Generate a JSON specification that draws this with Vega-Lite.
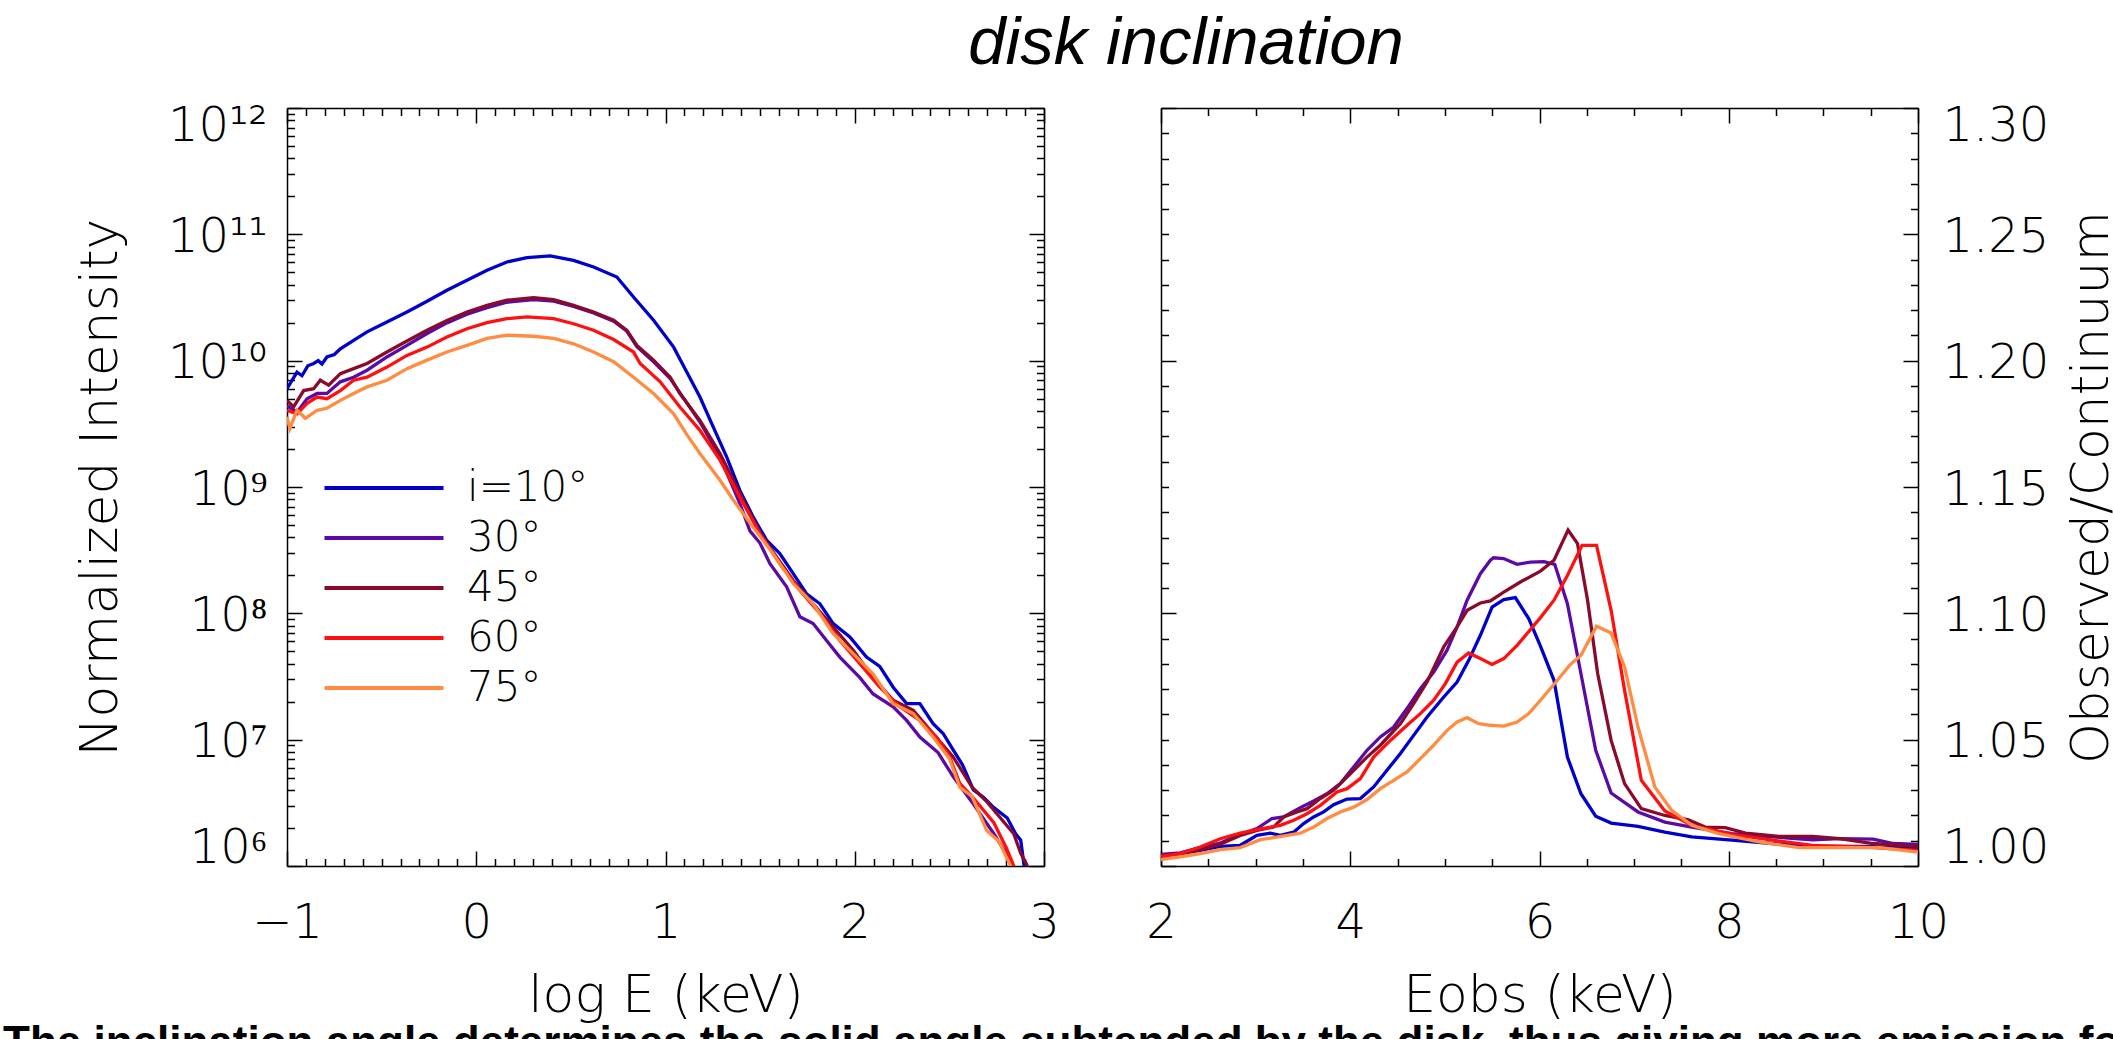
{
  "$schema": "https://vega.github.io/schema/vega-lite/v6.json",
  "autosize": {"type": "none"},
  "padding": {"left": 287, "top": 108, "right": 1826, "bottom": 931},
  "background": "white",
  "datasets": {
    "spec": [
      {"inc": "i=10°", "logE": -1, "I": 6.0e9}, {"inc": "i=10°", "logE": -0.947, "I": 8.1e9}, {"inc": "i=10°", "logE": -0.921, "I": 7.6e9}, {"inc": "i=10°", "logE": -0.89, "I": 9.1e9}, {"inc": "i=10°", "logE": -0.859, "I": 9.5e9}, {"inc": "i=10°", "logE": -0.835, "I": 1.0e10}, {"inc": "i=10°", "logE": -0.815, "I": 9.4e9}, {"inc": "i=10°", "logE": -0.789, "I": 1.07e10}, {"inc": "i=10°", "logE": -0.75, "I": 1.12e10}, {"inc": "i=10°", "logE": -0.718, "I": 1.24e10}, {"inc": "i=10°", "logE": -0.648, "I": 1.45e10}, {"inc": "i=10°", "logE": -0.577, "I": 1.69e10}, {"inc": "i=10°", "logE": -0.472, "I": 2.02e10}, {"inc": "i=10°", "logE": -0.366, "I": 2.43e10}, {"inc": "i=10°", "logE": -0.26, "I": 2.95e10}, {"inc": "i=10°", "logE": -0.155, "I": 3.61e10}, {"inc": "i=10°", "logE": -0.049, "I": 4.33e10}, {"inc": "i=10°", "logE": 0.057, "I": 5.19e10}, {"inc": "i=10°", "logE": 0.162, "I": 6.04e10}, {"inc": "i=10°", "logE": 0.268, "I": 6.55e10}, {"inc": "i=10°", "logE": 0.391, "I": 6.75e10}, {"inc": "i=10°", "logE": 0.514, "I": 6.22e10}, {"inc": "i=10°", "logE": 0.62, "I": 5.51e10}, {"inc": "i=10°", "logE": 0.743, "I": 4.59e10}, {"inc": "i=10°", "logE": 0.831, "I": 3.19e10}, {"inc": "i=10°", "logE": 0.937, "I": 2.09e10}, {"inc": "i=10°", "logE": 1.043, "I": 1.28e10}, {"inc": "i=10°", "logE": 1.113, "I": 8.1e9}, {"inc": "i=10°", "logE": 1.182, "I": 5.15e9}, {"inc": "i=10°", "logE": 1.252, "I": 2.99e9}, {"inc": "i=10°", "logE": 1.323, "I": 1.73e9}, {"inc": "i=10°", "logE": 1.393, "I": 9.4e8}, {"inc": "i=10°", "logE": 1.463, "I": 5.8e8}, {"inc": "i=10°", "logE": 1.534, "I": 3.8e8}, {"inc": "i=10°", "logE": 1.604, "I": 2.97e8}, {"inc": "i=10°", "logE": 1.675, "I": 2.06e8}, {"inc": "i=10°", "logE": 1.745, "I": 1.43e8}, {"inc": "i=10°", "logE": 1.816, "I": 1.19e8}, {"inc": "i=10°", "logE": 1.886, "I": 8.3e7}, {"inc": "i=10°", "logE": 1.974, "I": 6.5e7}, {"inc": "i=10°", "logE": 2.062, "I": 4.5e7}, {"inc": "i=10°", "logE": 2.132, "I": 3.8e7}, {"inc": "i=10°", "logE": 2.203, "I": 2.6e7}, {"inc": "i=10°", "logE": 2.274, "I": 1.93e7}, {"inc": "i=10°", "logE": 2.344, "I": 1.93e7}, {"inc": "i=10°", "logE": 2.414, "I": 1.34e7}, {"inc": "i=10°", "logE": 2.467, "I": 1.12e7}, {"inc": "i=10°", "logE": 2.52, "I": 8.3e6}, {"inc": "i=10°", "logE": 2.57, "I": 6.3e6}, {"inc": "i=10°", "logE": 2.627, "I": 4.0e6}, {"inc": "i=10°", "logE": 2.68, "I": 3.5e6}, {"inc": "i=10°", "logE": 2.735, "I": 2.9e6}, {"inc": "i=10°", "logE": 2.806, "I": 2.4e6}, {"inc": "i=10°", "logE": 2.85, "I": 1.8e6}, {"inc": "i=10°", "logE": 2.877, "I": 1.6e6}, {"inc": "i=10°", "logE": 2.895, "I": 1.0e6},
      {"inc": "30°", "logE": -1, "I": 4.4e9}, {"inc": "30°", "logE": -0.947, "I": 3.9e9}, {"inc": "30°", "logE": -0.894, "I": 5.0e9}, {"inc": "30°", "logE": -0.841, "I": 5.5e9}, {"inc": "30°", "logE": -0.789, "I": 5.5e9}, {"inc": "30°", "logE": -0.718, "I": 6.8e9}, {"inc": "30°", "logE": -0.648, "I": 7.4e9}, {"inc": "30°", "logE": -0.577, "I": 8.4e9}, {"inc": "30°", "logE": -0.472, "I": 1.07e10}, {"inc": "30°", "logE": -0.366, "I": 1.32e10}, {"inc": "30°", "logE": -0.26, "I": 1.64e10}, {"inc": "30°", "logE": -0.155, "I": 1.99e10}, {"inc": "30°", "logE": -0.049, "I": 2.33e10}, {"inc": "30°", "logE": 0.057, "I": 2.63e10}, {"inc": "30°", "logE": 0.162, "I": 2.9e10}, {"inc": "30°", "logE": 0.303, "I": 3.04e10}, {"inc": "30°", "logE": 0.409, "I": 2.96e10}, {"inc": "30°", "logE": 0.514, "I": 2.69e10}, {"inc": "30°", "logE": 0.62, "I": 2.39e10}, {"inc": "30°", "logE": 0.726, "I": 2.05e10}, {"inc": "30°", "logE": 0.796, "I": 1.71e10}, {"inc": "30°", "logE": 0.849, "I": 1.29e10}, {"inc": "30°", "logE": 0.937, "I": 9.8e9}, {"inc": "30°", "logE": 1.025, "I": 7.2e9}, {"inc": "30°", "logE": 1.182, "I": 3.27e9}, {"inc": "30°", "logE": 1.288, "I": 1.73e9}, {"inc": "30°", "logE": 1.393, "I": 7.4e8}, {"inc": "30°", "logE": 1.446, "I": 4.5e8}, {"inc": "30°", "logE": 1.499, "I": 3.6e8}, {"inc": "30°", "logE": 1.552, "I": 2.47e8}, {"inc": "30°", "logE": 1.64, "I": 1.62e8}, {"inc": "30°", "logE": 1.71, "I": 9.4e7}, {"inc": "30°", "logE": 1.78, "I": 8.3e7}, {"inc": "30°", "logE": 1.851, "I": 6.1e7}, {"inc": "30°", "logE": 1.921, "I": 4.5e7}, {"inc": "30°", "logE": 2.027, "I": 3.1e7}, {"inc": "30°", "logE": 2.097, "I": 2.3e7}, {"inc": "30°", "logE": 2.203, "I": 1.82e7}, {"inc": "30°", "logE": 2.274, "I": 1.42e7}, {"inc": "30°", "logE": 2.344, "I": 1.05e7}, {"inc": "30°", "logE": 2.44, "I": 7.9e6}, {"inc": "30°", "logE": 2.52, "I": 5.1e6}, {"inc": "30°", "logE": 2.62, "I": 3.2e6}, {"inc": "30°", "logE": 2.735, "I": 1.8e6}, {"inc": "30°", "logE": 2.84, "I": 1.0e6},
      {"inc": "45°", "logE": -1, "I": 4.85e9}, {"inc": "45°", "logE": -0.965, "I": 4.3e9}, {"inc": "45°", "logE": -0.912, "I": 5.8e9}, {"inc": "45°", "logE": -0.859, "I": 6.0e9}, {"inc": "45°", "logE": -0.824, "I": 7.0e9}, {"inc": "45°", "logE": -0.78, "I": 6.4e9}, {"inc": "45°", "logE": -0.718, "I": 7.9e9}, {"inc": "45°", "logE": -0.648, "I": 8.65e9}, {"inc": "45°", "logE": -0.577, "I": 9.5e9}, {"inc": "45°", "logE": -0.472, "I": 1.17e10}, {"inc": "45°", "logE": -0.366, "I": 1.43e10}, {"inc": "45°", "logE": -0.26, "I": 1.74e10}, {"inc": "45°", "logE": -0.155, "I": 2.08e10}, {"inc": "45°", "logE": -0.049, "I": 2.43e10}, {"inc": "45°", "logE": 0.057, "I": 2.74e10}, {"inc": "45°", "logE": 0.162, "I": 3.01e10}, {"inc": "45°", "logE": 0.303, "I": 3.16e10}, {"inc": "45°", "logE": 0.409, "I": 3.04e10}, {"inc": "45°", "logE": 0.514, "I": 2.74e10}, {"inc": "45°", "logE": 0.62, "I": 2.43e10}, {"inc": "45°", "logE": 0.726, "I": 2.09e10}, {"inc": "45°", "logE": 0.796, "I": 1.74e10}, {"inc": "45°", "logE": 0.849, "I": 1.32e10}, {"inc": "45°", "logE": 0.937, "I": 1.01e10}, {"inc": "45°", "logE": 1.025, "I": 7.4e9}, {"inc": "45°", "logE": 1.076, "I": 5.5e9}, {"inc": "45°", "logE": 1.182, "I": 3.37e9}, {"inc": "45°", "logE": 1.288, "I": 1.84e9}, {"inc": "45°", "logE": 1.393, "I": 8.9e8}, {"inc": "45°", "logE": 1.499, "I": 4.3e8}, {"inc": "45°", "logE": 1.587, "I": 2.8e8}, {"inc": "45°", "logE": 1.675, "I": 1.82e8}, {"inc": "45°", "logE": 1.78, "I": 1.19e8}, {"inc": "45°", "logE": 1.886, "I": 7.8e7}, {"inc": "45°", "logE": 1.992, "I": 5.1e7}, {"inc": "45°", "logE": 2.097, "I": 3.1e7}, {"inc": "45°", "logE": 2.203, "I": 2.05e7}, {"inc": "45°", "logE": 2.309, "I": 1.71e7}, {"inc": "45°", "logE": 2.414, "I": 1.12e7}, {"inc": "45°", "logE": 2.52, "I": 7.3e6}, {"inc": "45°", "logE": 2.62, "I": 4.2e6}, {"inc": "45°", "logE": 2.7, "I": 3.2e6}, {"inc": "45°", "logE": 2.77, "I": 2.4e6}, {"inc": "45°", "logE": 2.84, "I": 1.8e6}, {"inc": "45°", "logE": 2.877, "I": 1.26e6}, {"inc": "45°", "logE": 2.913, "I": 1.0e6},
      {"inc": "60°", "logE": -1, "I": 4.05e9}, {"inc": "60°", "logE": -0.947, "I": 3.8e9}, {"inc": "60°", "logE": -0.894, "I": 4.6e9}, {"inc": "60°", "logE": -0.841, "I": 5.15e9}, {"inc": "60°", "logE": -0.789, "I": 5.0e9}, {"inc": "60°", "logE": -0.718, "I": 5.8e9}, {"inc": "60°", "logE": -0.648, "I": 7.0e9}, {"inc": "60°", "logE": -0.577, "I": 7.4e9}, {"inc": "60°", "logE": -0.472, "I": 8.9e9}, {"inc": "60°", "logE": -0.366, "I": 1.1e10}, {"inc": "60°", "logE": -0.26, "I": 1.28e10}, {"inc": "60°", "logE": -0.155, "I": 1.54e10}, {"inc": "60°", "logE": -0.049, "I": 1.79e10}, {"inc": "60°", "logE": 0.057, "I": 2.0e10}, {"inc": "60°", "logE": 0.162, "I": 2.15e10}, {"inc": "60°", "logE": 0.268, "I": 2.22e10}, {"inc": "60°", "logE": 0.409, "I": 2.15e10}, {"inc": "60°", "logE": 0.514, "I": 1.96e10}, {"inc": "60°", "logE": 0.62, "I": 1.74e10}, {"inc": "60°", "logE": 0.726, "I": 1.47e10}, {"inc": "60°", "logE": 0.831, "I": 1.17e10}, {"inc": "60°", "logE": 0.866, "I": 9.5e9}, {"inc": "60°", "logE": 0.972, "I": 6.8e9}, {"inc": "60°", "logE": 1.076, "I": 4.3e9}, {"inc": "60°", "logE": 1.182, "I": 2.81e9}, {"inc": "60°", "logE": 1.288, "I": 1.63e9}, {"inc": "60°", "logE": 1.393, "I": 8.3e8}, {"inc": "60°", "logE": 1.499, "I": 4.3e8}, {"inc": "60°", "logE": 1.604, "I": 2.47e8}, {"inc": "60°", "logE": 1.71, "I": 1.52e8}, {"inc": "60°", "logE": 1.816, "I": 1.0e8}, {"inc": "60°", "logE": 1.921, "I": 6.1e7}, {"inc": "60°", "logE": 2.027, "I": 4.0e7}, {"inc": "60°", "logE": 2.132, "I": 2.6e7}, {"inc": "60°", "logE": 2.238, "I": 1.82e7}, {"inc": "60°", "logE": 2.344, "I": 1.42e7}, {"inc": "60°", "logE": 2.432, "I": 1.05e7}, {"inc": "60°", "logE": 2.5, "I": 7.4e6}, {"inc": "60°", "logE": 2.555, "I": 4.5e6}, {"inc": "60°", "logE": 2.62, "I": 3.55e6}, {"inc": "60°", "logE": 2.735, "I": 2.2e6}, {"inc": "60°", "logE": 2.8, "I": 1.4e6}, {"inc": "60°", "logE": 2.84, "I": 1.0e6},
      {"inc": "75°", "logE": -1, "I": 3.6e9}, {"inc": "75°", "logE": -0.985, "I": 2.9e9}, {"inc": "75°", "logE": -0.947, "I": 4.05e9}, {"inc": "75°", "logE": -0.903, "I": 3.5e9}, {"inc": "75°", "logE": -0.841, "I": 4.05e9}, {"inc": "75°", "logE": -0.789, "I": 4.2e9}, {"inc": "75°", "logE": -0.718, "I": 4.85e9}, {"inc": "75°", "logE": -0.648, "I": 5.5e9}, {"inc": "75°", "logE": -0.577, "I": 6.2e9}, {"inc": "75°", "logE": -0.472, "I": 7.0e9}, {"inc": "75°", "logE": -0.366, "I": 8.65e9}, {"inc": "75°", "logE": -0.26, "I": 1.01e10}, {"inc": "75°", "logE": -0.155, "I": 1.17e10}, {"inc": "75°", "logE": -0.049, "I": 1.32e10}, {"inc": "75°", "logE": 0.057, "I": 1.5e10}, {"inc": "75°", "logE": 0.162, "I": 1.59e10}, {"inc": "75°", "logE": 0.303, "I": 1.56e10}, {"inc": "75°", "logE": 0.409, "I": 1.5e10}, {"inc": "75°", "logE": 0.514, "I": 1.36e10}, {"inc": "75°", "logE": 0.62, "I": 1.17e10}, {"inc": "75°", "logE": 0.726, "I": 9.8e9}, {"inc": "75°", "logE": 0.831, "I": 7.4e9}, {"inc": "75°", "logE": 0.937, "I": 5.5e9}, {"inc": "75°", "logE": 1.043, "I": 3.8e9}, {"inc": "75°", "logE": 1.113, "I": 2.6e9}, {"inc": "75°", "logE": 1.182, "I": 1.84e9}, {"inc": "75°", "logE": 1.288, "I": 1.13e9}, {"inc": "75°", "logE": 1.358, "I": 7.9e8}, {"inc": "75°", "logE": 1.463, "I": 4.8e8}, {"inc": "75°", "logE": 1.569, "I": 2.97e8}, {"inc": "75°", "logE": 1.675, "I": 1.72e8}, {"inc": "75°", "logE": 1.78, "I": 1.19e8}, {"inc": "75°", "logE": 1.886, "I": 6.9e7}, {"inc": "75°", "logE": 1.992, "I": 4.8e7}, {"inc": "75°", "logE": 2.097, "I": 3.3e7}, {"inc": "75°", "logE": 2.203, "I": 1.93e7}, {"inc": "75°", "logE": 2.309, "I": 1.61e7}, {"inc": "75°", "logE": 2.414, "I": 1.05e7}, {"inc": "75°", "logE": 2.5, "I": 7.1e6}, {"inc": "75°", "logE": 2.555, "I": 4.2e6}, {"inc": "75°", "logE": 2.62, "I": 3.55e6}, {"inc": "75°", "logE": 2.698, "I": 1.9e6}, {"inc": "75°", "logE": 2.76, "I": 1.58e6}, {"inc": "75°", "logE": 2.824, "I": 1.0e6}
    ],
    "ratio": [
      {"inc": "i=10°", "E": 2.0, "R": 1.0038}, {"inc": "i=10°", "E": 2.204, "R": 1.0049}, {"inc": "i=10°", "E": 2.415, "R": 1.0062}, {"inc": "i=10°", "E": 2.627, "R": 1.0078}, {"inc": "i=10°", "E": 2.838, "R": 1.0082}, {"inc": "i=10°", "E": 3.014, "R": 1.0121}, {"inc": "i=10°", "E": 3.155, "R": 1.013}, {"inc": "i=10°", "E": 3.261, "R": 1.0121}, {"inc": "i=10°", "E": 3.402, "R": 1.0134}, {"inc": "i=10°", "E": 3.507, "R": 1.0168}, {"inc": "i=10°", "E": 3.613, "R": 1.0194}, {"inc": "i=10°", "E": 3.719, "R": 1.0214}, {"inc": "i=10°", "E": 3.824, "R": 1.0243}, {"inc": "i=10°", "E": 3.966, "R": 1.0265}, {"inc": "i=10°", "E": 4.107, "R": 1.0267}, {"inc": "i=10°", "E": 4.247, "R": 1.0313}, {"inc": "i=10°", "E": 4.388, "R": 1.0379}, {"inc": "i=10°", "E": 4.53, "R": 1.0445}, {"inc": "i=10°", "E": 4.67, "R": 1.0517}, {"inc": "i=10°", "E": 4.812, "R": 1.059}, {"inc": "i=10°", "E": 4.988, "R": 1.0669}, {"inc": "i=10°", "E": 5.129, "R": 1.0728}, {"inc": "i=10°", "E": 5.252, "R": 1.0814}, {"inc": "i=10°", "E": 5.375, "R": 1.0913}, {"inc": "i=10°", "E": 5.499, "R": 1.1025}, {"inc": "i=10°", "E": 5.622, "R": 1.1054}, {"inc": "i=10°", "E": 5.745, "R": 1.1062}, {"inc": "i=10°", "E": 5.886, "R": 1.0979}, {"inc": "i=10°", "E": 6.01, "R": 1.087}, {"inc": "i=10°", "E": 6.153, "R": 1.0735}, {"inc": "i=10°", "E": 6.295, "R": 1.0431}, {"inc": "i=10°", "E": 6.438, "R": 1.0286}, {"inc": "i=10°", "E": 6.594, "R": 1.0197}, {"inc": "i=10°", "E": 6.757, "R": 1.017}, {"inc": "i=10°", "E": 7.041, "R": 1.0157}, {"inc": "i=10°", "E": 7.325, "R": 1.0134}, {"inc": "i=10°", "E": 7.609, "R": 1.0115}, {"inc": "i=10°", "E": 8.035, "R": 1.0102}, {"inc": "i=10°", "E": 8.461, "R": 1.0089}, {"inc": "i=10°", "E": 8.887, "R": 1.0078}, {"inc": "i=10°", "E": 9.455, "R": 1.0078}, {"inc": "i=10°", "E": 10.0, "R": 1.0069},
      {"inc": "30°", "E": 2.0, "R": 1.0046}, {"inc": "30°", "E": 2.204, "R": 1.0052}, {"inc": "30°", "E": 2.415, "R": 1.0073}, {"inc": "30°", "E": 2.627, "R": 1.0091}, {"inc": "30°", "E": 2.838, "R": 1.0125}, {"inc": "30°", "E": 3.014, "R": 1.0148}, {"inc": "30°", "E": 3.173, "R": 1.0188}, {"inc": "30°", "E": 3.296, "R": 1.0194}, {"inc": "30°", "E": 3.472, "R": 1.0231}, {"inc": "30°", "E": 3.613, "R": 1.0257}, {"inc": "30°", "E": 3.754, "R": 1.0286}, {"inc": "30°", "E": 3.895, "R": 1.0326}, {"inc": "30°", "E": 4.036, "R": 1.0392}, {"inc": "30°", "E": 4.177, "R": 1.0458}, {"inc": "30°", "E": 4.318, "R": 1.0511}, {"inc": "30°", "E": 4.459, "R": 1.055}, {"inc": "30°", "E": 4.6, "R": 1.0623}, {"inc": "30°", "E": 4.741, "R": 1.0702}, {"inc": "30°", "E": 4.882, "R": 1.0768}, {"inc": "30°", "E": 5.023, "R": 1.0854}, {"inc": "30°", "E": 5.129, "R": 1.0946}, {"inc": "30°", "E": 5.235, "R": 1.1052}, {"inc": "30°", "E": 5.375, "R": 1.1157}, {"inc": "30°", "E": 5.481, "R": 1.121}, {"inc": "30°", "E": 5.515, "R": 1.122}, {"inc": "30°", "E": 5.62, "R": 1.1217}, {"inc": "30°", "E": 5.763, "R": 1.1194}, {"inc": "30°", "E": 5.905, "R": 1.1203}, {"inc": "30°", "E": 6.047, "R": 1.1205}, {"inc": "30°", "E": 6.161, "R": 1.1194}, {"inc": "30°", "E": 6.295, "R": 1.1038}, {"inc": "30°", "E": 6.438, "R": 1.0761}, {"inc": "30°", "E": 6.594, "R": 1.0458}, {"inc": "30°", "E": 6.757, "R": 1.0289}, {"inc": "30°", "E": 7.041, "R": 1.0214}, {"inc": "30°", "E": 7.325, "R": 1.0174}, {"inc": "30°", "E": 7.609, "R": 1.0154}, {"inc": "30°", "E": 8.035, "R": 1.0128}, {"inc": "30°", "E": 8.461, "R": 1.0115}, {"inc": "30°", "E": 8.887, "R": 1.0104}, {"inc": "30°", "E": 9.171, "R": 1.0108}, {"inc": "30°", "E": 9.526, "R": 1.0106}, {"inc": "30°", "E": 9.74, "R": 1.0089}, {"inc": "30°", "E": 10.0, "R": 1.0085},
      {"inc": "45°", "E": 2.0, "R": 1.0042}, {"inc": "45°", "E": 2.204, "R": 1.0049}, {"inc": "45°", "E": 2.415, "R": 1.0065}, {"inc": "45°", "E": 2.627, "R": 1.0086}, {"inc": "45°", "E": 2.838, "R": 1.0121}, {"inc": "45°", "E": 3.014, "R": 1.0141}, {"inc": "45°", "E": 3.19, "R": 1.0154}, {"inc": "45°", "E": 3.296, "R": 1.0194}, {"inc": "45°", "E": 3.437, "R": 1.0214}, {"inc": "45°", "E": 3.543, "R": 1.0227}, {"inc": "45°", "E": 3.684, "R": 1.0267}, {"inc": "45°", "E": 3.824, "R": 1.03}, {"inc": "45°", "E": 3.966, "R": 1.0352}, {"inc": "45°", "E": 4.177, "R": 1.0431}, {"inc": "45°", "E": 4.318, "R": 1.0478}, {"inc": "45°", "E": 4.53, "R": 1.0563}, {"inc": "45°", "E": 4.67, "R": 1.0643}, {"inc": "45°", "E": 4.812, "R": 1.0728}, {"inc": "45°", "E": 4.988, "R": 1.0867}, {"inc": "45°", "E": 5.129, "R": 1.0946}, {"inc": "45°", "E": 5.235, "R": 1.1012}, {"inc": "45°", "E": 5.375, "R": 1.1041}, {"inc": "45°", "E": 5.481, "R": 1.1049}, {"inc": "45°", "E": 5.622, "R": 1.1084}, {"inc": "45°", "E": 5.798, "R": 1.1124}, {"inc": "45°", "E": 6.01, "R": 1.1167}, {"inc": "45°", "E": 6.153, "R": 1.121}, {"inc": "45°", "E": 6.302, "R": 1.133}, {"inc": "45°", "E": 6.402, "R": 1.1276}, {"inc": "45°", "E": 6.508, "R": 1.1052}, {"inc": "45°", "E": 6.615, "R": 1.0761}, {"inc": "45°", "E": 6.757, "R": 1.0497}, {"inc": "45°", "E": 6.899, "R": 1.0326}, {"inc": "45°", "E": 7.076, "R": 1.0227}, {"inc": "45°", "E": 7.325, "R": 1.02}, {"inc": "45°", "E": 7.574, "R": 1.0183}, {"inc": "45°", "E": 7.751, "R": 1.0154}, {"inc": "45°", "E": 7.964, "R": 1.0152}, {"inc": "45°", "E": 8.177, "R": 1.013}, {"inc": "45°", "E": 8.532, "R": 1.0117}, {"inc": "45°", "E": 8.887, "R": 1.0117}, {"inc": "45°", "E": 9.171, "R": 1.0108}, {"inc": "45°", "E": 9.526, "R": 1.0089}, {"inc": "45°", "E": 10.0, "R": 1.0078},
      {"inc": "60°", "E": 2.0, "R": 1.0038}, {"inc": "60°", "E": 2.204, "R": 1.0049}, {"inc": "60°", "E": 2.415, "R": 1.0075}, {"inc": "60°", "E": 2.627, "R": 1.0108}, {"inc": "60°", "E": 2.838, "R": 1.013}, {"inc": "60°", "E": 3.014, "R": 1.0144}, {"inc": "60°", "E": 3.155, "R": 1.0154}, {"inc": "60°", "E": 3.261, "R": 1.0161}, {"inc": "60°", "E": 3.402, "R": 1.0181}, {"inc": "60°", "E": 3.543, "R": 1.0207}, {"inc": "60°", "E": 3.684, "R": 1.024}, {"inc": "60°", "E": 3.86, "R": 1.0293}, {"inc": "60°", "E": 3.966, "R": 1.0306}, {"inc": "60°", "E": 4.107, "R": 1.0346}, {"inc": "60°", "E": 4.247, "R": 1.0431}, {"inc": "60°", "E": 4.424, "R": 1.0497}, {"inc": "60°", "E": 4.6, "R": 1.0557}, {"inc": "60°", "E": 4.741, "R": 1.0603}, {"inc": "60°", "E": 4.882, "R": 1.0656}, {"inc": "60°", "E": 5.005, "R": 1.0722}, {"inc": "60°", "E": 5.129, "R": 1.0807}, {"inc": "60°", "E": 5.252, "R": 1.0843}, {"inc": "60°", "E": 5.375, "R": 1.0821}, {"inc": "60°", "E": 5.499, "R": 1.0798}, {"inc": "60°", "E": 5.622, "R": 1.0821}, {"inc": "60°", "E": 5.763, "R": 1.0873}, {"inc": "60°", "E": 5.869, "R": 1.092}, {"inc": "60°", "E": 6.01, "R": 1.0983}, {"inc": "60°", "E": 6.153, "R": 1.1052}, {"inc": "60°", "E": 6.295, "R": 1.115}, {"inc": "60°", "E": 6.45, "R": 1.1269}, {"inc": "60°", "E": 6.603, "R": 1.1269}, {"inc": "60°", "E": 6.757, "R": 1.1012}, {"inc": "60°", "E": 6.899, "R": 1.0695}, {"inc": "60°", "E": 7.076, "R": 1.0339}, {"inc": "60°", "E": 7.325, "R": 1.0218}, {"inc": "60°", "E": 7.609, "R": 1.0161}, {"inc": "60°", "E": 8.035, "R": 1.0125}, {"inc": "60°", "E": 8.461, "R": 1.0102}, {"inc": "60°", "E": 8.887, "R": 1.0082}, {"inc": "60°", "E": 9.455, "R": 1.0075}, {"inc": "60°", "E": 10.0, "R": 1.0062},
      {"inc": "75°", "E": 2.0, "R": 1.0025}, {"inc": "75°", "E": 2.204, "R": 1.0036}, {"inc": "75°", "E": 2.415, "R": 1.0049}, {"inc": "75°", "E": 2.627, "R": 1.0065}, {"inc": "75°", "E": 2.838, "R": 1.0073}, {"inc": "75°", "E": 3.05, "R": 1.0104}, {"inc": "75°", "E": 3.19, "R": 1.0112}, {"inc": "75°", "E": 3.332, "R": 1.0121}, {"inc": "75°", "E": 3.472, "R": 1.013}, {"inc": "75°", "E": 3.613, "R": 1.0154}, {"inc": "75°", "E": 3.754, "R": 1.0188}, {"inc": "75°", "E": 3.895, "R": 1.0214}, {"inc": "75°", "E": 4.036, "R": 1.0233}, {"inc": "75°", "E": 4.177, "R": 1.0263}, {"inc": "75°", "E": 4.318, "R": 1.0306}, {"inc": "75°", "E": 4.459, "R": 1.0339}, {"inc": "75°", "E": 4.6, "R": 1.0372}, {"inc": "75°", "E": 4.741, "R": 1.0425}, {"inc": "75°", "E": 4.882, "R": 1.0478}, {"inc": "75°", "E": 5.023, "R": 1.0537}, {"inc": "75°", "E": 5.129, "R": 1.057}, {"inc": "75°", "E": 5.235, "R": 1.0587}, {"inc": "75°", "E": 5.357, "R": 1.0563}, {"inc": "75°", "E": 5.481, "R": 1.0557}, {"inc": "75°", "E": 5.622, "R": 1.0554}, {"inc": "75°", "E": 5.763, "R": 1.057}, {"inc": "75°", "E": 5.886, "R": 1.0603}, {"inc": "75°", "E": 6.01, "R": 1.0656}, {"inc": "75°", "E": 6.189, "R": 1.0735}, {"inc": "75°", "E": 6.317, "R": 1.0794}, {"inc": "75°", "E": 6.438, "R": 1.0834}, {"inc": "75°", "E": 6.603, "R": 1.0949}, {"inc": "75°", "E": 6.757, "R": 1.0922}, {"inc": "75°", "E": 6.899, "R": 1.0788}, {"inc": "75°", "E": 7.041, "R": 1.055}, {"inc": "75°", "E": 7.219, "R": 1.0313}, {"inc": "75°", "E": 7.397, "R": 1.022}, {"inc": "75°", "E": 7.609, "R": 1.0161}, {"inc": "75°", "E": 7.893, "R": 1.0128}, {"inc": "75°", "E": 8.319, "R": 1.0095}, {"inc": "75°", "E": 8.745, "R": 1.0073}, {"inc": "75°", "E": 9.171, "R": 1.0073}, {"inc": "75°", "E": 9.597, "R": 1.0073}, {"inc": "75°", "E": 10.0, "R": 1.0055}
    ]
  },
  "title": {
    "text": "The inclination angle determines the solid angle subtended by the disk, thus giving more emission for",
    "orient": "bottom", "anchor": "start", "frame": "group", "dx": -284, "offset": 0,
    "font": "Liberation Sans", "fontSize": 44, "fontWeight": "bold", "color": "#000"
  },
  "bounds": "flush",
  "vconcat": [
    {
      "title": {
        "text": "disk inclination", "anchor": "middle", "frame": "group", "dx": 899, "offset": 15,
        "font": "Liberation Sans", "fontSize": 67, "fontStyle": "italic", "fontWeight": "normal", "color": "#000"
      },
      "bounds": "flush",
      "spacing": 117,
      "resolve": {"scale": {"color": "independent"}},
      "hconcat": [
        {
          "width": 757, "height": 758,
          "data": {"name": "spec"},
          "layer": [
            {
              "mark": {"type": "line", "strokeWidth": 3.3, "clip": true},
              "encoding": {
                "x": {"field": "logE", "type": "quantitative", "scale": {"domain": [-1, 3], "nice": false, "zero": false},
                  "axis": {"orient": "bottom", "title": "log E (keV)",
                    "values": [-1,-0.9,-0.8,-0.7,-0.6,-0.5,-0.4,-0.3,-0.2,-0.1,0,0.1,0.2,0.3,0.4,0.5,0.6,0.7,0.8,0.9,1,1.1,1.2,1.3,1.4,1.5,1.6,1.7,1.8,1.9,2,2.1,2.2,2.3,2.4,2.5,2.6,2.7,2.8,2.9,3],
                    "labelExpr": "abs(datum.value - round(datum.value)) < 0.001 ? (datum.value < 0 ? '−' + abs(round(datum.value)) : '' + round(datum.value)) : ''",
                    "tickSize": {"condition": {"test": "abs(datum.value - round(datum.value)) < 0.001", "value": -15}, "value": -7.5},
                    "labelPadding": 48, "titlePadding": 16}},
                "y": {"field": "I", "type": "quantitative", "scale": {"type": "log", "domain": [1e6, 1e12], "nice": false},
                  "axis": {"orient": "left", "title": "Normalized Intensity",
                    "values": [1e6,2e6,3e6,4e6,5e6,6e6,7e6,8e6,9e6,1e7,2e7,3e7,4e7,5e7,6e7,7e7,8e7,9e7,1e8,2e8,3e8,4e8,5e8,6e8,7e8,8e8,9e8,1e9,2e9,3e9,4e9,5e9,6e9,7e9,8e9,9e9,1e10,2e10,3e10,4e10,5e10,6e10,7e10,8e10,9e10,1e11,2e11,3e11,4e11,5e11,6e11,7e11,8e11,9e11,1e12],
                    "labelExpr": "datum.value == 1e12 ? '10¹²' : datum.value == 1e11 ? '10¹¹' : datum.value == 1e10 ? '10¹⁰' : datum.value == 1e9 ? '10⁹' : datum.value == 1e8 ? '10⁸' : datum.value == 1e7 ? '10⁷' : datum.value == 1e6 ? '10⁶' : ''",
                    "tickSize": {"condition": {"test": "indexof([1e6,1e7,1e8,1e9,1e10,1e11,1e12], datum.value) >= 0", "value": -15}, "value": -7.5},
                    "labelOffset": {"condition": [{"test": "datum.value == 1e12", "value": 18}, {"test": "datum.value == 1e6", "value": -18}], "value": 3},
                    "labelPadding": 35, "titlePadding": 40}},
                "color": {"field": "inc", "type": "nominal",
                  "scale": {"domain": ["i=10°", "30°", "45°", "60°", "75°"], "range": ["#0000cc", "#5a0aa5", "#8a0a2c", "#ff1010", "#ff8c40"]},
                  "legend": {"orient": "none", "legendX": 35, "legendY": 359, "title": null, "symbolType": "stroke", "symbolSize": 14170, "symbolStrokeWidth": 4, "clipHeight": 42, "labelOffset": 21, "symbolOffset": 0, "rowPadding": 8, "padding": 0, "labelFont": "DejaVu Sans", "labelFontWeight": 200, "labelFontSize": 42, "labelColor": "#000", "labelLimit": 400}}
              }
            },
            {
              "mark": {"type": "line", "strokeOpacity": 0},
              "encoding": {
                "x": {"field": "logE", "type": "quantitative", "scale": {"domain": [-1, 3], "nice": false, "zero": false},
                  "axis": {"orient": "top", "title": null, "labels": false,
                    "values": [-1,-0.9,-0.8,-0.7,-0.6,-0.5,-0.4,-0.3,-0.2,-0.1,0,0.1,0.2,0.3,0.4,0.5,0.6,0.7,0.8,0.9,1,1.1,1.2,1.3,1.4,1.5,1.6,1.7,1.8,1.9,2,2.1,2.2,2.3,2.4,2.5,2.6,2.7,2.8,2.9,3],
                    "tickSize": {"condition": {"test": "abs(datum.value - round(datum.value)) < 0.001", "value": -15}, "value": -7.5}}},
                "y": {"field": "I", "type": "quantitative", "scale": {"type": "log", "domain": [1e6, 1e12], "nice": false},
                  "axis": {"orient": "right", "title": null, "labels": false,
                    "values": [1e6,2e6,3e6,4e6,5e6,6e6,7e6,8e6,9e6,1e7,2e7,3e7,4e7,5e7,6e7,7e7,8e7,9e7,1e8,2e8,3e8,4e8,5e8,6e8,7e8,8e8,9e8,1e9,2e9,3e9,4e9,5e9,6e9,7e9,8e9,9e9,1e10,2e10,3e10,4e10,5e10,6e10,7e10,8e10,9e10,1e11,2e11,3e11,4e11,5e11,6e11,7e11,8e11,9e11,1e12],
                    "tickSize": {"condition": {"test": "indexof([1e6,1e7,1e8,1e9,1e10,1e11,1e12], datum.value) >= 0", "value": -15}, "value": -7.5}}},
                "detail": {"field": "inc", "type": "nominal"}
              }
            }
          ],
          "resolve": {"axis": {"x": "independent", "y": "independent"}}
        },
        {
          "width": 757, "height": 758,
          "data": {"name": "ratio"},
          "layer": [
            {
              "mark": {"type": "line", "strokeWidth": 3.3, "clip": true},
              "encoding": {
                "x": {"field": "E", "type": "quantitative", "scale": {"domain": [2, 10], "nice": false, "zero": false},
                  "axis": {"orient": "bottom", "title": "Eobs (keV)",
                    "values": [2,2.5,3,3.5,4,4.5,5,5.5,6,6.5,7,7.5,8,8.5,9,9.5,10],
                    "labelExpr": "datum.value % 2 == 0 ? '' + datum.value : ''",
                    "tickSize": {"condition": {"test": "datum.value % 2 == 0", "value": -15}, "value": -7.5},
                    "labelPadding": 48, "titlePadding": 16}},
                "y": {"field": "R", "type": "quantitative", "scale": {"domain": [1.0, 1.3], "nice": false, "zero": false},
                  "axis": {"orient": "left", "title": null, "labels": false,
                    "values": [1,1.01,1.02,1.03,1.04,1.05,1.06,1.07,1.08,1.09,1.1,1.11,1.12,1.13,1.14,1.15,1.16,1.17,1.18,1.19,1.2,1.21,1.22,1.23,1.24,1.25,1.26,1.27,1.28,1.29,1.3],
                    "tickSize": {"condition": {"test": "abs(datum.value*10 - round(datum.value*10)) < 0.001", "value": -15}, "value": -7.5}}},
                "color": {"field": "inc", "type": "nominal",
                  "scale": {"domain": ["i=10°", "30°", "45°", "60°", "75°"], "range": ["#0000cc", "#5a0aa5", "#8a0a2c", "#ff1010", "#ff8c40"]},
                  "legend": null}
              }
            },
            {
              "mark": {"type": "line", "strokeOpacity": 0},
              "encoding": {
                "x": {"field": "E", "type": "quantitative", "scale": {"domain": [2, 10], "nice": false, "zero": false},
                  "axis": {"orient": "top", "title": null, "labels": false,
                    "values": [2,2.5,3,3.5,4,4.5,5,5.5,6,6.5,7,7.5,8,8.5,9,9.5,10],
                    "tickSize": {"condition": {"test": "datum.value % 2 == 0", "value": -15}, "value": -7.5}}},
                "y": {"field": "R", "type": "quantitative", "scale": {"domain": [1.0, 1.3], "nice": false, "zero": false},
                  "axis": {"orient": "right", "title": "Observed/Continuum", "titleAngle": 270, "titleBaseline": "top", "titleAlign": "center",
                    "values": [1,1.01,1.02,1.03,1.04,1.05,1.06,1.07,1.08,1.09,1.1,1.11,1.12,1.13,1.14,1.15,1.16,1.17,1.18,1.19,1.2,1.21,1.22,1.23,1.24,1.25,1.26,1.27,1.28,1.29,1.3],
                    "labelExpr": "abs(datum.value*20 - round(datum.value*20)) < 0.001 ? format(datum.value, '.2f') : ''",
                    "tickSize": {"condition": {"test": "abs(datum.value*20 - round(datum.value*20)) < 0.001", "value": -15}, "value": -7.5},
                    "labelOffset": {"condition": [{"test": "datum.value == 1.3", "value": 18}, {"test": "datum.value == 1", "value": -18}], "value": 3},
                    "labelPadding": 39, "titlePadding": 18}},
                "detail": {"field": "inc", "type": "nominal"}
              }
            }
          ],
          "resolve": {"axis": {"x": "independent", "y": "independent"}}
        }
      ]
    }
  ],
  "config": {
    "view": {"stroke": null},
    "axis": {
      "grid": false,
      "labelFont": "DejaVu Sans", "labelFontWeight": 200, "labelFontSize": 48, "labelColor": "#000",
      "titleFont": "DejaVu Sans", "titleFontWeight": 200, "titleFontSize": 52, "titleColor": "#000",
      "domainColor": "#000", "domainWidth": 1.5, "tickColor": "#000", "tickWidth": 1.5,
      "labelOverlap": false, "labelFlush": false, "labelBound": false
    }
  }
}
